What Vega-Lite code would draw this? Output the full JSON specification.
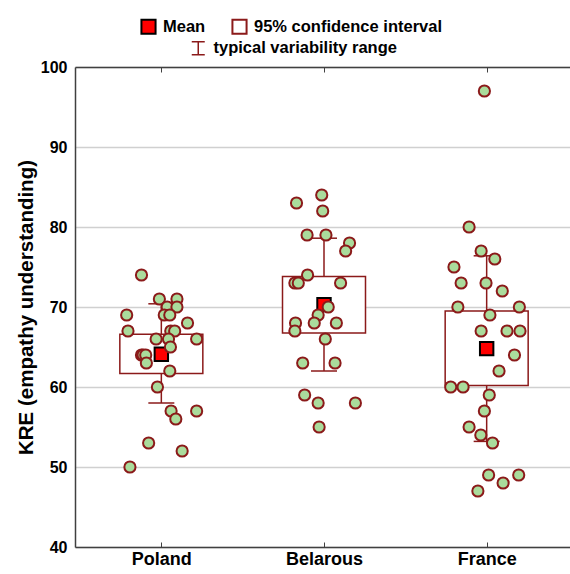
{
  "$schema": "https://vega.github.io/schema/vega-lite/v6.json",
  "width": 498,
  "height": 480,
  "autosize": {"type": "none"},
  "padding": {"left": 75, "top": 67, "right": 0, "bottom": 27},
  "background": "white",
  "config": {
    "view": {"stroke": null},
    "font": "Liberation Sans",
    "axis": {"labelFont": "Liberation Sans", "titleFont": "Liberation Sans", "labelFontWeight": "bold", "titleFontWeight": "bold", "labelColor": "black", "titleColor": "black"},
    "legend": {"labelFont": "Liberation Sans", "labelFontWeight": "bold", "labelFontSize": 16.5, "labelColor": "black", "padding": 0, "labelLimit": 400}
  },
  "datasets": {
    "summary": [
      {"g": "Poland", "x": 1, "mean": 64.1, "ci_lo": 61.7, "ci_hi": 66.6, "lo": 58.0, "hi": 70.4, "series": "Mean", "range": "typical variability range"},
      {"g": "Belarous", "x": 2, "mean": 70.3, "ci_lo": 66.75, "ci_hi": 73.8, "lo": 62.0, "hi": 78.6, "series": "Mean", "range": "typical variability range"},
      {"g": "France", "x": 3, "mean": 64.8, "ci_lo": 60.2, "ci_hi": 69.5, "lo": 53.2, "hi": 76.4, "series": "Mean", "range": "typical variability range"}
    ],
    "points": [
      {"g": "Poland", "pos": 0.878, "v": 74},
      {"g": "Poland", "pos": 0.988, "v": 71},
      {"g": "Poland", "pos": 1.096, "v": 71},
      {"g": "Poland", "pos": 1.036, "v": 70},
      {"g": "Poland", "pos": 1.096, "v": 70},
      {"g": "Poland", "pos": 0.787, "v": 69},
      {"g": "Poland", "pos": 1.018, "v": 69},
      {"g": "Poland", "pos": 1.052, "v": 69},
      {"g": "Poland", "pos": 1.161, "v": 68},
      {"g": "Poland", "pos": 0.795, "v": 67},
      {"g": "Poland", "pos": 1.058, "v": 67},
      {"g": "Poland", "pos": 1.082, "v": 67},
      {"g": "Poland", "pos": 0.968, "v": 66},
      {"g": "Poland", "pos": 1.044, "v": 66},
      {"g": "Poland", "pos": 1.217, "v": 66},
      {"g": "Poland", "pos": 1.056, "v": 65},
      {"g": "Poland", "pos": 0.878, "v": 64},
      {"g": "Poland", "pos": 0.888, "v": 64},
      {"g": "Poland", "pos": 0.904, "v": 64},
      {"g": "Poland", "pos": 0.908, "v": 63},
      {"g": "Poland", "pos": 1.052, "v": 62},
      {"g": "Poland", "pos": 0.976, "v": 60},
      {"g": "Poland", "pos": 1.060, "v": 57},
      {"g": "Poland", "pos": 1.217, "v": 57},
      {"g": "Poland", "pos": 1.089, "v": 56},
      {"g": "Poland", "pos": 0.922, "v": 53},
      {"g": "Poland", "pos": 1.128, "v": 52},
      {"g": "Poland", "pos": 0.807, "v": 50},
      {"g": "Belarous", "pos": 1.986, "v": 84},
      {"g": "Belarous", "pos": 1.831, "v": 83},
      {"g": "Belarous", "pos": 1.992, "v": 82},
      {"g": "Belarous", "pos": 1.896, "v": 79},
      {"g": "Belarous", "pos": 2.012, "v": 79},
      {"g": "Belarous", "pos": 2.157, "v": 78},
      {"g": "Belarous", "pos": 2.133, "v": 77},
      {"g": "Belarous", "pos": 1.899, "v": 74},
      {"g": "Belarous", "pos": 1.821, "v": 73},
      {"g": "Belarous", "pos": 1.842, "v": 73},
      {"g": "Belarous", "pos": 2.102, "v": 73},
      {"g": "Belarous", "pos": 2.026, "v": 70},
      {"g": "Belarous", "pos": 1.964, "v": 69},
      {"g": "Belarous", "pos": 1.940, "v": 68},
      {"g": "Belarous", "pos": 1.825, "v": 68},
      {"g": "Belarous", "pos": 2.076, "v": 68},
      {"g": "Belarous", "pos": 1.821, "v": 67},
      {"g": "Belarous", "pos": 2.008, "v": 66},
      {"g": "Belarous", "pos": 1.869, "v": 63},
      {"g": "Belarous", "pos": 2.068, "v": 63},
      {"g": "Belarous", "pos": 1.881, "v": 59},
      {"g": "Belarous", "pos": 1.964, "v": 58},
      {"g": "Belarous", "pos": 2.193, "v": 58},
      {"g": "Belarous", "pos": 1.970, "v": 55},
      {"g": "France", "pos": 2.986, "v": 97},
      {"g": "France", "pos": 2.892, "v": 80},
      {"g": "France", "pos": 2.966, "v": 77},
      {"g": "France", "pos": 3.050, "v": 76},
      {"g": "France", "pos": 2.799, "v": 75},
      {"g": "France", "pos": 2.843, "v": 73},
      {"g": "France", "pos": 2.996, "v": 73},
      {"g": "France", "pos": 3.096, "v": 72},
      {"g": "France", "pos": 2.823, "v": 70},
      {"g": "France", "pos": 3.201, "v": 70},
      {"g": "France", "pos": 3.020, "v": 69},
      {"g": "France", "pos": 2.966, "v": 67},
      {"g": "France", "pos": 3.125, "v": 67},
      {"g": "France", "pos": 3.205, "v": 67},
      {"g": "France", "pos": 3.171, "v": 64},
      {"g": "France", "pos": 3.076, "v": 62},
      {"g": "France", "pos": 2.779, "v": 60},
      {"g": "France", "pos": 2.855, "v": 60},
      {"g": "France", "pos": 3.016, "v": 59},
      {"g": "France", "pos": 2.986, "v": 57},
      {"g": "France", "pos": 2.892, "v": 55},
      {"g": "France", "pos": 2.964, "v": 54},
      {"g": "France", "pos": 3.036, "v": 53},
      {"g": "France", "pos": 3.012, "v": 49},
      {"g": "France", "pos": 3.197, "v": 49},
      {"g": "France", "pos": 3.101, "v": 48},
      {"g": "France", "pos": 2.946, "v": 47}
    ]
  },
  "resolve": {"axis": {"x": "independent"}},
  "layer": [
    {
      "data": {"name": "summary"},
      "mark": {"type": "rule", "stroke": "#8b1a1a", "strokeWidth": 1.5},
      "encoding": {
        "x": {"field": "x", "type": "quantitative", "scale": {"domain": [0.5, 3.5], "nice": false, "zero": false},
          "axis": {"orient": "bottom", "values": [1, 2, 3], "grid": false, "title": null, "labelFontSize": 18, "labelPadding": 8,
            "labelExpr": "datum.value == 1 ? 'Poland' : datum.value == 2 ? 'Belarous' : 'France'",
            "domainColor": "#404040", "domainWidth": 1.5, "tickColor": "#404040", "tickSize": -5, "tickWidth": 1}},
        "y": {"field": "lo", "type": "quantitative", "scale": {"domain": [40, 100], "nice": false, "zero": false},
          "axis": {"values": [40, 50, 60, 70, 80, 90, 100], "title": "KRE (empathy understanding)", "titleFontSize": 20.5, "titlePadding": 4,
            "labelFontSize": 16, "labelPadding": 8, "ticks": false, "grid": true, "gridColor": "#d0d0d0", "gridWidth": 1.5,
            "domainColor": "#404040", "domainWidth": 1.5}},
        "y2": {"field": "hi"}
      }
    },
    {
      "data": {"name": "summary"},
      "mark": {"type": "point", "shape": "M-1,0H1", "size": 676, "filled": false, "strokeWidth": 1.5, "opacity": 1},
      "encoding": {
        "x": {"field": "x", "type": "quantitative", "axis": null},
        "y": {"field": "hi", "type": "quantitative"},
        "color": {"field": "range", "type": "nominal", "scale": {"range": ["#8b1a1a"]},
          "legend": {"title": null, "orient": "none", "legendX": 115, "legendY": -27, "symbolType": "M-1,-1H1M0,-1V1M-1,1H1", "symbolSize": 169, "symbolStrokeWidth": 1.5, "labelOffset": 7}}
      }
    },
    {
      "data": {"name": "summary"},
      "mark": {"type": "point", "shape": "M-1,0H1", "size": 676, "filled": false, "strokeWidth": 1.5, "stroke": "#8b1a1a", "opacity": 1},
      "encoding": {
        "x": {"field": "x", "type": "quantitative", "axis": null},
        "y": {"field": "lo", "type": "quantitative"}
      }
    },
    {
      "data": {"name": "summary"},
      "mark": {"type": "bar", "size": 83, "fill": "white", "stroke": "#8b1a1a", "strokeWidth": 1.5},
      "encoding": {
        "x": {"field": "x", "type": "quantitative", "axis": null},
        "y": {"field": "ci_lo", "type": "quantitative"},
        "y2": {"field": "ci_hi"}
      }
    },
    {
      "data": {"name": "summary"},
      "mark": {"type": "point", "shape": "square", "size": 180, "filled": true, "strokeWidth": 2, "opacity": 1},
      "encoding": {
        "x": {"field": "x", "type": "quantitative", "axis": null},
        "y": {"field": "mean", "type": "quantitative"},
        "fill": {"field": "series", "type": "nominal", "scale": {"domain": ["Mean", "95% confidence interval"], "range": ["#ff0000", "#ffffff"]},
          "legend": {"title": null, "orient": "none", "direction": "horizontal", "legendX": 65, "legendY": -49, "symbolSize": 200, "symbolStrokeWidth": 2, "labelOffset": 6, "columnPadding": 22, "symbolType": "square"}},
        "stroke": {"field": "series", "type": "nominal", "scale": {"domain": ["Mean", "95% confidence interval"], "range": ["#000000", "#8b1a1a"]}}
      }
    },
    {
      "data": {"name": "points"},
      "mark": {"type": "point", "shape": "circle", "size": 125, "filled": true, "fill": "#aadc9c", "stroke": "#8b1a1a", "strokeWidth": 2, "opacity": 1},
      "encoding": {
        "x": {"field": "pos", "type": "quantitative",
          "axis": {"orient": "top", "values": [1, 2, 3], "labels": false, "grid": false, "title": null, "domainColor": "#404040", "domainWidth": 1.5, "tickColor": "#404040", "tickSize": -5, "tickWidth": 1}},
        "y": {"field": "v", "type": "quantitative"}
      }
    }
  ]
}
